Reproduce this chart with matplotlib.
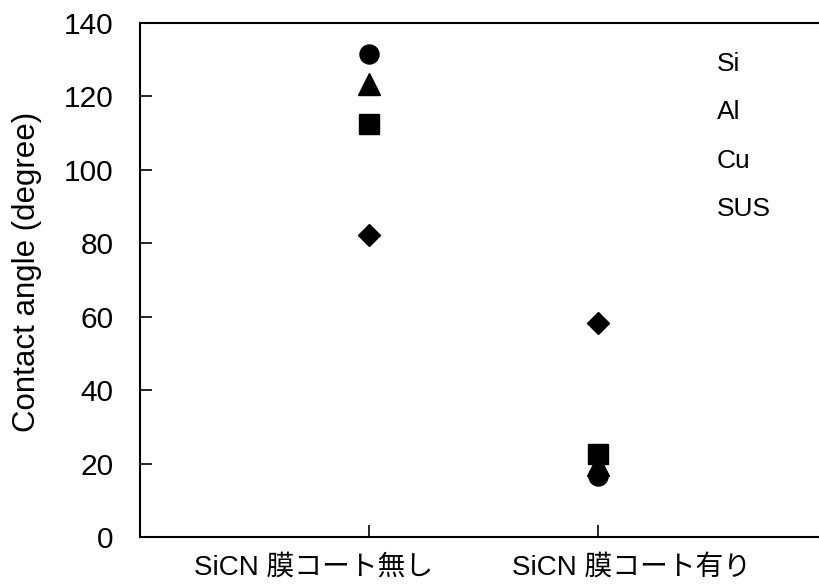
import matplotlib
matplotlib.use("Agg")
import matplotlib.pyplot as plt
from matplotlib.lines import Line2D

plt.rcParams['font.family'] = ['Liberation Sans', 'Noto Sans CJK JP']

categories = ["SiCN 膜コート無し", "SiCN 膜コート有り"]
series_names = ["Si", "Al", "Cu", "SUS"]
si_values = [131.5, 16.7]
al_values = [123.3, 19.5]
cu_values = [112.5, 22.6]
sus_values = [82.3, 58.3]
y_ticks = [0, 20, 40, 60, 80, 100, 120, 140]

W, H = 819, 584
fig = plt.figure(figsize=(W / 100, H / 100), dpi=100)
ax = fig.add_axes([140 / W, (H - 537) / H, (827 - 140) / W, (537 - 23) / H])

x = [1, 2]
ax.plot(x, al_values, linestyle='none', marker='^', ms=15.8, color='black', zorder=2)
ax.plot(x, si_values, linestyle='none', marker='o', ms=13.7, color='black', zorder=3)
ax.plot(x, cu_values, linestyle='none', marker='s', ms=13.7, color='black', zorder=4)
ax.plot(x, sus_values, linestyle='none', marker='D', ms=11.2, color='black', zorder=5)

ax.set_xlim(0, 3)
ax.set_ylim(0, 140)
ax.set_yticks(y_ticks)
ax.set_xticks(x)
ax.set_xticklabels([])

# category labels placed under their ticks, with the reference's horizontal offsets
label_dx_pt = [-39.6, 23.8]
for xi, cat, dx in zip(x, categories, label_dx_pt):
    ax.annotate(cat, xy=(xi, 0), xycoords=ax.get_xaxis_transform(),
                xytext=(dx, -13), textcoords='offset points',
                ha='center', va='top', fontsize=20, annotation_clip=False)

for s in ['left', 'bottom', 'top']:
    ax.spines[s].set_linewidth(1.5)
ax.spines['right'].set_visible(False)

ax.tick_params(axis='y', direction='in', length=8.5, width=1.2, labelsize=21.5, pad=19)
ax.tick_params(axis='x', direction='in', length=8.5, width=1.2)

ax.set_ylabel("Contact angle (degree)", fontsize=22.5)
ax.yaxis.set_label_coords(-0.143, 0.515)

handles = [Line2D([], [], linestyle='none', marker=None) for _ in series_names]
leg = ax.legend(handles, series_names, loc='upper left', frameon=False,
                fontsize=19, handlelength=0, handletextpad=0, labelspacing=0.92,
                bbox_to_anchor=(717 / W, (H - 52) / H), bbox_transform=fig.transFigure,
                borderaxespad=0, borderpad=0)

fig.savefig("out.png", dpi=100)
